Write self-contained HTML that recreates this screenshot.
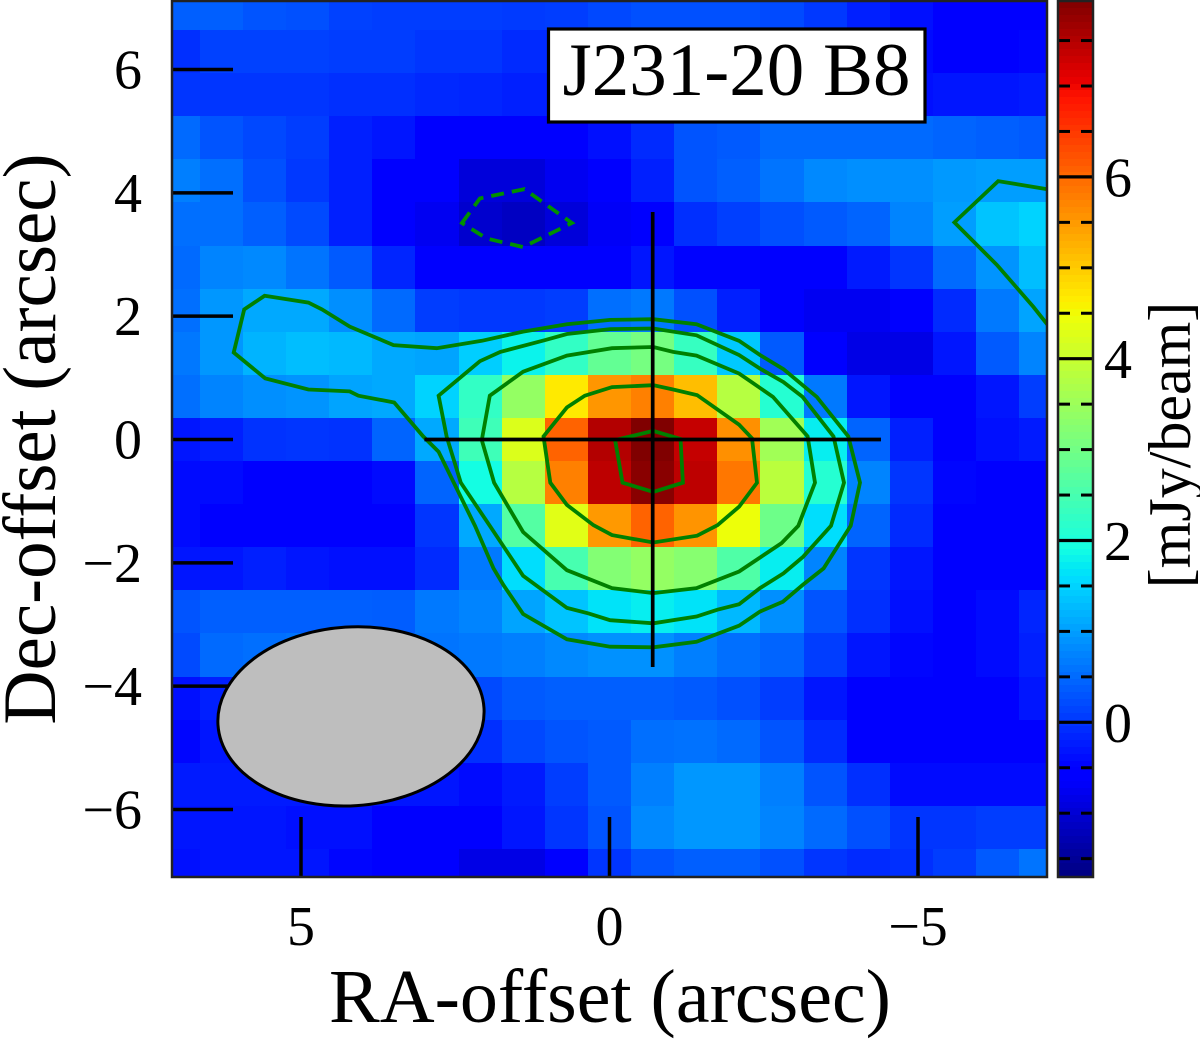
<!DOCTYPE html>
<html lang="en">
<head>
<meta charset="utf-8">
<title>J231-20 B8 continuum map</title>
<style>
html,body{margin:0;padding:0;background:#fff;}
svg{display:block;font-family:"Liberation Serif",serif;fill:#000;}
</style>
</head>
<body>
<svg id="chart" width="1200" height="1041" viewBox="0 0 1200 1041">
  <defs><clipPath id="plot-clip"><rect x="172" y="1" width="875" height="876"/></clipPath></defs>
  <g id="cells" clip-path="url(#plot-clip)" shape-rendering="crispEdges"></g>
  <g id="contours" clip-path="url(#plot-clip)" fill="none" stroke="#008000" stroke-width="3.8" stroke-linejoin="miter"></g>
  <g id="crosshair" stroke="#000" stroke-width="3.7"></g>
  <g id="ticks" stroke="#000" stroke-width="3.5"></g>
  <ellipse id="beam" fill="#bebebe" stroke="#000" stroke-width="3"></ellipse>
  <g>
    <rect x="548.5" y="29" width="376.5" height="93" fill="#fff" stroke="#000" stroke-width="3.2"/>
    <text x="736.5" y="95" font-size="75" text-anchor="middle">J231-20 B8</text>
  </g>
  <rect x="172" y="1" width="875" height="876" fill="none" stroke="#222" stroke-width="2.5"/>
  <g id="tick-labels" font-size="56"></g>
  <text x="610" y="1022" font-size="76" text-anchor="middle">RA-offset (arcsec)</text>
  <text transform="translate(55 439) rotate(-90)" font-size="75" text-anchor="middle">Dec-offset (arcsec)</text>
  <g id="colorbar"></g>
  <text transform="translate(1190 445) rotate(-90)" font-size="60" text-anchor="middle">[mJy/beam]</text>
</svg>
<script>
// Flux per beam (mJy/beam), top row first, east (left) to west (right)
const fluxRow00 = [.4,.4,.3,.26,.12,.08,.08,.08,.05,.08,.18,.26,.26,.26,.2,.03,-.2,-.35,-.5,-.5,-.5];
const fluxRow01 = [-.05,.12,.12,.12,.08,.08,0,0,-.1,-.1,-.1,0,0,0,0,0,-.2,-.4,-.5,-.5,-.45];
const fluxRow02 = [0,0,0,0,-.05,-.05,-.12,-.15,-.2,-.2,-.2,-.2,-.2,-.2,-.2,-.25,-.3,-.35,-.3,-.3,-.25];
const fluxRow03 = [.5,.3,.18,.08,-.2,-.3,-.5,-.5,-.5,-.5,-.35,-.1,.3,.35,.5,.5,.5,.5,.45,.4,.35];
const fluxRow04 = [.7,.55,.26,.03,-.2,-.5,-.55,-.95,-.95,-.75,-.6,-.2,.3,.4,.6,.8,.85,.85,.95,1.0,1.0];
const fluxRow05 = [.55,.55,.4,.2,-.2,-.5,-.75,-1.05,-1.15,-.95,-.7,-.5,-.05,.1,.25,.35,.45,.75,1.0,1.35,1.5];
const fluxRow06 = [.5,.75,.8,.6,.35,-.15,-.5,-.52,-.55,-.52,-.5,-.3,-.48,-.48,-.5,-.5,-.25,0,.5,.9,1.3];
const fluxRow07 = [.55,.93,1.1,1.1,.85,.5,.08,.03,.03,.08,.55,.65,.26,-.2,-.55,-.75,-.75,-.55,-.1,.65,1.05];
const fluxRow08 = [.64,.93,1.2,1.3,1.25,1.1,1.05,1.45,1.8,2.25,2.83,3.05,2.3,1.4,.35,-.55,-.85,-.85,-.3,.35,.75];
const fluxRow09 = [.55,.75,.85,.9,1.05,1.1,1.5,2.25,3.4,4.68,5.53,5.76,5.13,3.8,2.1,.65,-.3,-.55,-.55,-.3,.08];
const fluxRow10 = [-.3,-.2,-.02,0,-.02,.45,1.1,2.4,4.24,6.05,7.5,7.93,7.35,5.6,3.55,1.75,.45,-.2,-.5,-.35,-.25];
const fluxRow11 = [-.4,-.4,-.5,-.5,-.5,-.4,.45,1.9,3.8,5.76,7.42,7.85,7.42,5.85,3.85,2.1,.75,0,-.45,-.5,-.55];
const fluxRow12 = [-.4,-.5,-.52,-.52,-.55,-.58,0,1.1,2.65,4.3,5.5,6.05,5.55,4.45,2.95,1.6,.45,-.1,-.5,-.5,-.5];
const fluxRow13 = [-.3,-.3,-.2,-.3,-.35,-.35,-.1,.65,1.6,2.5,3.2,3.4,3.25,2.6,1.75,.75,0,-.3,-.5,-.5,-.5];
const fluxRow14 = [.3,.4,.4,.4,.4,.38,.65,.75,1.05,1.35,1.65,1.75,1.65,1.25,.85,.3,-.05,-.35,-.5,-.4,-.15];
const fluxRow15 = [.2,.5,.55,.6,.6,.6,.6,.65,.7,.8,.87,.87,.7,.55,.45,.08,-.3,-.45,-.5,-.4,-.2];
const fluxRow16 = [-.35,-.2,0,.1,.1,.1,.1,.2,.35,.4,.4,.4,.35,.26,.08,-.3,-.5,-.5,-.5,-.5,-.3];
const fluxRow17 = [-.45,-.3,-.1,-.1,-.1,-.1,-.1,-.05,.18,.3,.35,.55,.58,.5,.3,-.1,-.5,-.5,-.5,-.5,-.5];
const fluxRow18 = [-.25,-.25,-.25,-.25,-.25,-.3,-.3,-.4,-.25,.08,.35,.7,.93,.93,.7,.3,-.05,-.4,-.4,-.4,-.4];
const fluxRow19 = [-.3,-.3,-.3,-.35,-.35,-.5,-.5,-.5,-.3,0,.3,.8,.93,.93,.75,.5,.26,0,0,.08,.08];
const fluxRow20 = [-.35,-.3,-.3,-.3,-.45,-.5,-.6,-.85,-.85,-.5,0,.3,.4,.4,.26,0,-.1,-.05,.08,.35,.6];
const fluxRows = [fluxRow00,fluxRow01,fluxRow02,fluxRow03,fluxRow04,fluxRow05,fluxRow06,fluxRow07,fluxRow08,fluxRow09,fluxRow10,fluxRow11,fluxRow12,fluxRow13,fluxRow14,fluxRow15,fluxRow16,fluxRow17,fluxRow18,fluxRow19,fluxRow20];

// Contours as [RA offset, Dec offset] in arcsec
const contourLevel1 = [[5.59,2.33],[4.88,2.22],[4.66,2.11],[4.21,1.83],[3.50,1.53],[2.80,1.48],[2.07,1.60],[1.40,1.75],[.69,1.87],[-.01,1.94],[-.71,1.95],[-1.41,1.87],[-2.10,1.60],[-2.44,1.37],[-2.82,1.14],[-3.36,.69],[-3.87,.05],[-4.06,-.70],[-3.91,-1.40],[-3.47,-2.09],[-3.13,-2.36],[-2.81,-2.63],[-2.44,-2.79],[-2.10,-3.02],[-1.41,-3.28],[-.71,-3.37],[-.01,-3.36],[.69,-3.24],[1.40,-2.83],[1.72,-2.36],[1.88,-2.09],[2.18,-1.40],[2.77,-.20],[3.02,.05],[3.49,.60],[4.07,.71],[4.21,.78],[4.88,.81],[5.58,.99],[6.09,1.41],[5.92,2.11]];
const contourLevel2 = [[2.77,.71],[2.10,1.27],[1.77,1.42],[1.05,1.61],[.69,1.71],[-.01,1.79],[-.71,1.80],[-1.41,1.69],[-2.10,1.37],[-2.44,1.15],[-2.82,.93],[-3.13,.69],[-3.63,.05],[-3.80,-.70],[-3.59,-1.40],[-3.14,-1.90],[-2.82,-2.17],[-2.44,-2.41],[-2.10,-2.67],[-1.75,-2.76],[-1.41,-2.87],[-.71,-2.98],[-.01,-2.93],[.34,-2.82],[.69,-2.73],[1.40,-2.21],[1.94,-1.40],[2.41,-.70],[2.64,.05]];
const contourLevel3 = [[1.94,.71],[1.40,1.10],[.69,1.36],[-.04,1.48],[-.71,1.50],[-1.03,1.42],[-1.41,1.36],[-2.10,1.07],[-2.65,.69],[-3.21,.05],[-3.33,-.70],[-3.06,-1.40],[-2.79,-1.68],[-2.10,-2.14],[-1.41,-2.41],[-.71,-2.49],[-.04,-2.41],[.69,-2.12],[1.40,-1.50],[1.87,-.70],[2.07,-.01]];
const contourLevel4 = [[1.07,.05],[.69,.52],[.40,.71],[-.04,.85],[-.71,.88],[-1.03,.81],[-1.42,.72],[-2.10,.24],[-2.31,.02],[-2.39,-.70],[-2.10,-1.09],[-1.75,-1.39],[-1.42,-1.56],[-.71,-1.67],[-.04,-1.55],[.26,-1.39],[.69,-1.06],[.96,-.70]];
const contourLevel5 = [[-.71,.14],[-1.15,.01],[-1.19,-.70],[-.71,-.85],[-.21,-.70],[-.09,-.01]];
const contourNegative = [[2.39,3.51],[2.10,3.91],[1.38,4.06],[.61,3.51],[1.40,3.12],[1.99,3.26]];
const contourEdge = [[-7.14,4.05],[-6.30,4.19],[-5.59,3.52],[-6.28,2.83],[-6.87,2.15],[-7.14,1.81]];

// Tick values and labels
const decTicks = [6,4,2,0,-2,-4,-6];
const decTickLabels = ["6","4","2","0","\u22122","\u22124","\u22126"];
const raTicks = [5,0,-5];
const raTickLabels = ["5","0","\u22125"];
const colorbarMajor = [0,2,4,6];
const colorbarMajorLabels = ["0","2","4","6"];
const colorbarMinor = [-1.5,-1,-0.5,0.5,1,1.5,2.5,3,3.5,4.5,5,5.5,6.5,7,7.5];

// Source marker and beam, in arcsec
const sourceCentre = [-0.7, 0];
const crossHalfLength = [3.7, 3.69];
const beamCentre = [4.19, -4.49];
const beamAxes = [2.16, 1.45];
const beamTilt = [-3.7];

// Colour scale limits
const fluxLimits = [-1.7, 7.93];

const NS = "http://www.w3.org/2000/svg";
const CELL = 0.699;
function xScale(ra){ return 609.5 - 61.7 * ra; }
function yScale(dec){ return 439.5 - 61.67 * dec; }
function cbScale(v){ return 722.3 - 90.9 * v; }
function lerp(t, pts){
  if (t <= pts[0][0]) return pts[0][1];
  for (let i = 1; i < pts.length; i++) {
    if (t <= pts[i][0]) {
      const a = pts[i-1], b = pts[i];
      return a[1] + (b[1]-a[1]) * (t-a[0]) / (b[0]-a[0]);
    }
  }
  return pts[pts.length-1][1];
}
function jet(v){
  const t = Math.max(0, Math.min(1, (v - fluxLimits[0]) / (fluxLimits[1] - fluxLimits[0])));
  const r = lerp(t, [[0,0],[.35,0],[.66,1],[.89,1],[1,.5]]);
  const g = lerp(t, [[0,0],[.125,0],[.375,1],[.64,1],[.91,0],[1,0]]);
  const b = lerp(t, [[0,.5],[.11,1],[.34,1],[.65,0],[1,0]]);
  return "rgb(" + Math.round(r*255) + "," + Math.round(g*255) + "," + Math.round(b*255) + ")";
}
function make(tag, attrs, parent){
  const el = document.createElementNS(NS, tag);
  for (const k in attrs) el.setAttribute(k, attrs[k]);
  parent.appendChild(el);
  return el;
}
function pointsOf(list){
  return list.map(function(p){ return xScale(p[0]).toFixed(1) + "," + yScale(p[1]).toFixed(1); }).join(" ");
}

// Heatmap
const cellsGroup = document.getElementById("cells");
fluxRows.forEach(function(row, j){
  row.forEach(function(v, i){
    const ra = (10 - i) * CELL;
    const dec = (10 - j) * CELL;
    const x0 = Math.round(xScale(ra + CELL/2));
    const x1 = Math.round(xScale(ra - CELL/2));
    const y0 = Math.round(yScale(dec + CELL/2));
    const y1 = Math.round(yScale(dec - CELL/2));
    const cell = make("rect", {x:x0, y:y0, width:x1-x0, height:y1-y0, fill:jet(v)}, cellsGroup);
    
    
  });
});

// Contours
const contourGroup = document.getElementById("contours");
[contourLevel1, contourLevel2, contourLevel3, contourLevel4, contourLevel5].forEach(function(list){
  const poly = make("polygon", {points:pointsOf(list)}, contourGroup);
  
  
});
const negPoly = make("polygon", {points:pointsOf(contourNegative), "stroke-dasharray":"13 8", stroke:"#009000"}, contourGroup);


const edgeLine = make("polyline", {points:pointsOf(contourEdge)}, contourGroup);



// Crosshair
const crossGroup = document.getElementById("crosshair");
const crossH = make("line", {x1:xScale(sourceCentre[0]+crossHalfLength[0]), x2:xScale(sourceCentre[0]-crossHalfLength[0]), y1:yScale(sourceCentre[1]), y2:yScale(sourceCentre[1])}, crossGroup);


const crossV = make("line", {x1:xScale(sourceCentre[0]), x2:xScale(sourceCentre[0]), y1:yScale(sourceCentre[1]+crossHalfLength[1]), y2:yScale(sourceCentre[1]-crossHalfLength[1])}, crossGroup);



// Axis ticks and labels
const tickGroup = document.getElementById("ticks");
const labelGroup = document.getElementById("tick-labels");
decTicks.forEach(function(v, i){
  const t = make("line", {x1:172, x2:233, y1:yScale(v), y2:yScale(v)}, tickGroup);
  
  
  const l = make("text", {x:142, y:yScale(v)+19, "text-anchor":"end"}, labelGroup);
  l.textContent = decTickLabels[i];
  
  
});
raTicks.forEach(function(v, i){
  const t = make("line", {x1:xScale(v), x2:xScale(v), y1:817, y2:877}, tickGroup);
  
  
  const l = make("text", {x:xScale(v), y:945, "text-anchor":"middle"}, labelGroup);
  l.textContent = raTickLabels[i];
  
  
});

// Beam
const beam = document.getElementById("beam");
const bx = xScale(beamCentre[0]), by = yScale(beamCentre[1]);
beam.setAttribute("cx", bx);
beam.setAttribute("cy", by);
beam.setAttribute("rx", beamAxes[0]*61.7);
beam.setAttribute("ry", beamAxes[1]*61.67);
beam.setAttribute("transform", "rotate(" + beamTilt[0] + " " + bx + " " + by + ")");

// Colorbar
const cb = document.getElementById("colorbar");
const cbRamp = make("g", {"shape-rendering":"crispEdges"}, cb);


const cbSteps = 128;
for (let k = 0; k < cbSteps; k++) {
  const v0 = fluxLimits[0] + (fluxLimits[1]-fluxLimits[0]) * k / cbSteps;
  const v1 = fluxLimits[0] + (fluxLimits[1]-fluxLimits[0]) * (k+1) / cbSteps;
  const top = Math.round(cbScale(v1)), bottom = Math.round(cbScale(v0));
  const s = make("rect", {x:1058, y:top, width:35, height:bottom-top, fill:jet((v0+v1)/2)}, cbRamp);
  
  
}
colorbarMinor.forEach(function(v){
  const a = make("line", {x1:1058, x2:1070, y1:cbScale(v), y2:cbScale(v), stroke:"#000", "stroke-width":3}, cb);
  
  
  const b = make("line", {x1:1081, x2:1093, y1:cbScale(v), y2:cbScale(v), stroke:"#000", "stroke-width":3}, cb);
  
  
});
colorbarMajor.forEach(function(v, i){
  const a = make("line", {x1:1058, x2:1093, y1:cbScale(v), y2:cbScale(v), stroke:"#000", "stroke-width":3.2}, cb);
  
  
  const l = make("text", {x:1104, y:cbScale(v)+19.5, "font-size":56}, cb);
  l.textContent = colorbarMajorLabels[i];
  
  
});
const cbFrame = make("rect", {x:1058, y:1, width:35, height:876, fill:"none", stroke:"#222", "stroke-width":2.5}, cb);


</script>
</body>
</html>
